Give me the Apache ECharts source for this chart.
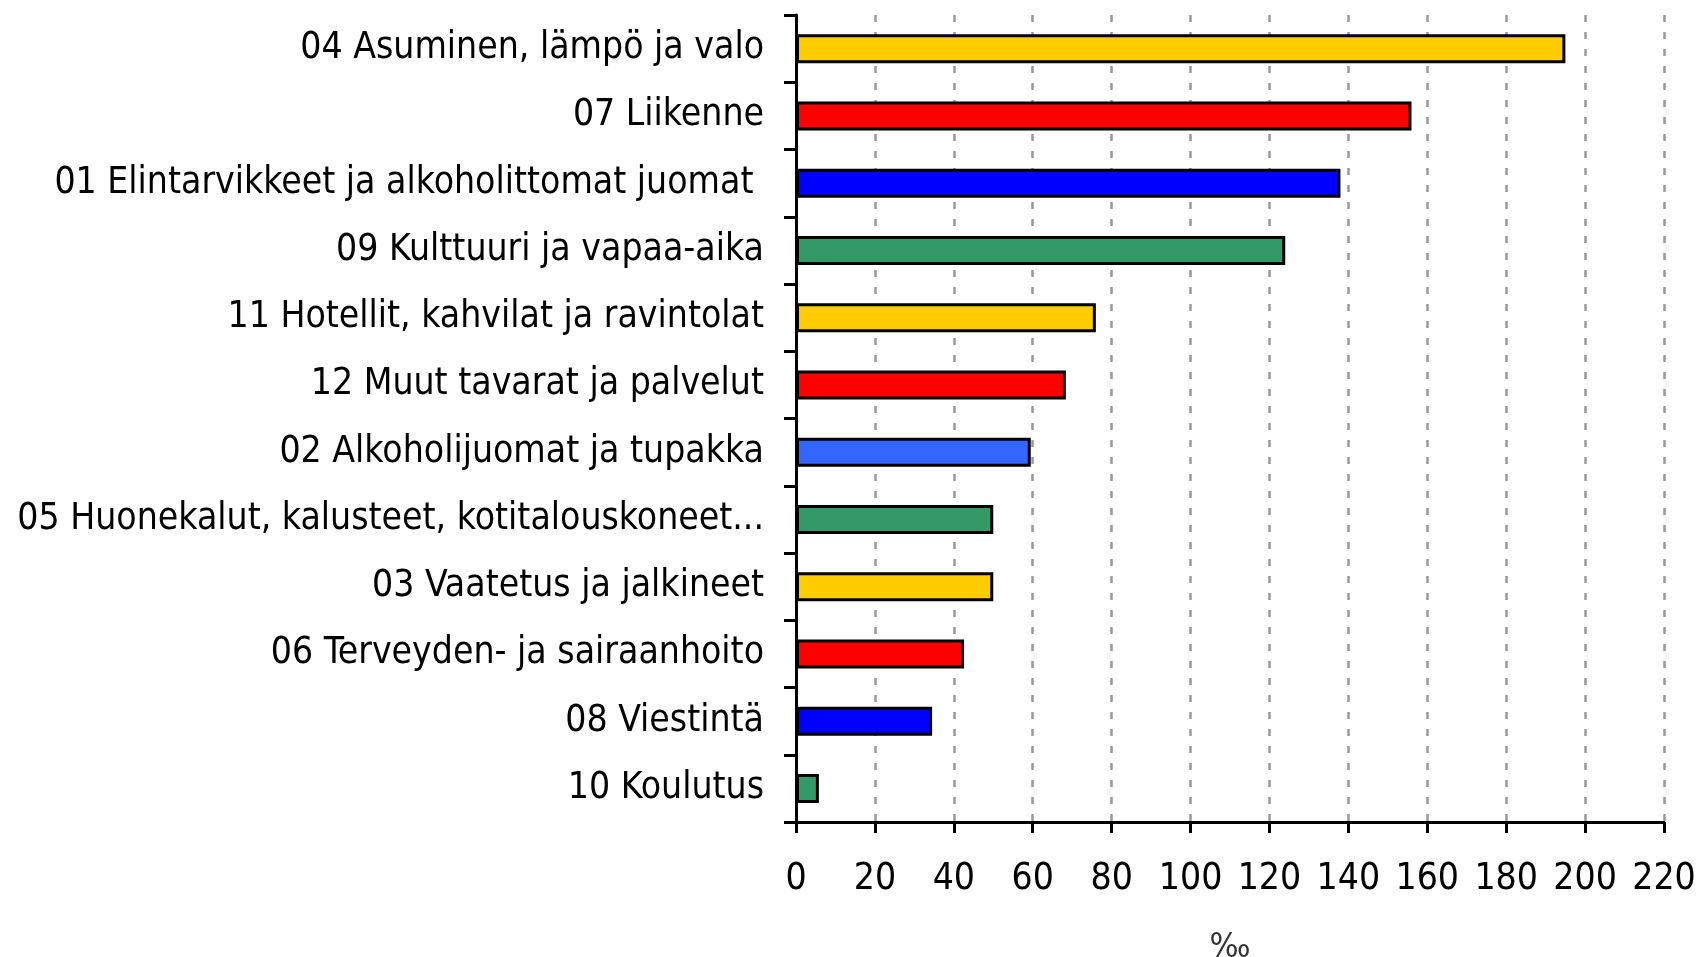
<!DOCTYPE html>
<html>
<head>
<meta charset="utf-8">
<script src="https://cdn.jsdelivr.net/npm/echarts@6/dist/echarts.min.js"></script>
<style>
  html, body { margin: 0; padding: 0; background: #fff; }
  #chart { width: 1697px; height: 957px; }
</style>
</head>
<body>
<div id="chart"></div>
<script>
// categories, top to bottom
const categories = [
  "04 Asuminen, lämpö ja valo",
  "07 Liikenne",
  "01 Elintarvikkeet ja alkoholittomat juomat ",
  "09 Kulttuuri ja vapaa-aika",
  "11 Hotellit, kahvilat ja ravintolat",
  "12 Muut tavarat ja palvelut",
  "02 Alkoholijuomat ja tupakka",
  "05 Huonekalut, kalusteet, kotitalouskoneet...",
  "03 Vaatetus ja jalkineet",
  "06 Terveyden- ja sairaanhoito",
  "08 Viestintä",
  "10 Koulutus"
];
// weights, per mille
const values = [195, 156, 138, 124, 76, 68.4, 59.5, 50, 50, 42.6, 34.5, 5.8];
const barColors = [
  "#FFCC00", "#FF0000", "#0000FF", "#339966",
  "#FFCC00", "#FF0000", "#3366FF", "#339966",
  "#FFCC00", "#FF0000", "#0000FF", "#339966"
];
const xTicks = { min: 0, max: 220, step: 20 };
const axisName = "‰";

const font = "'DejaVu Sans Condensed', 'Liberation Sans Narrow', sans-serif";

const chart = echarts.init(document.getElementById("chart"));
chart.setOption({
  animation: false,
  backgroundColor: "#fff",
  grid: { left: 796, right: 33, top: 15, bottom: 135, containLabel: false, outerBoundsMode: "none" },
  xAxis: {
    type: "value",
    min: xTicks.min,
    max: xTicks.max,
    interval: xTicks.step,
    name: axisName,
    nameLocation: "middle",
    nameGap: 109,
    nameTextStyle: { fontFamily: font, fontSize: 34, color: "#333" },
    axisLine: { show: true, lineStyle: { color: "#000", width: 3 } },
    axisTick: { show: true, length: 11, lineStyle: { color: "#000", width: 3 } },
    axisLabel: { fontFamily: font, fontSize: 37, color: "#000", margin: 39 },
    splitLine: { show: true, lineStyle: { color: "#999", width: 2.5, type: [7, 10] } }
  },
  yAxis: {
    type: "category",
    inverse: true,
    data: categories,
    axisLine: { show: true, lineStyle: { color: "#000", width: 3 } },
    axisTick: { show: true, length: 12, lineStyle: { color: "#000", width: 3 } },
    axisLabel: { fontFamily: font, fontSize: 37, color: "#000", margin: 32, padding: [6, 0, 0, 0] },
    splitLine: { show: false }
  },
  series: [{
    type: "bar",
    barWidth: 29,
    data: values.map((v, i) => ({
      value: v,
      itemStyle: { color: barColors[i], borderColor: "#000", borderWidth: 3 }
    }))
  }]
});
</script>
</body>
</html>
